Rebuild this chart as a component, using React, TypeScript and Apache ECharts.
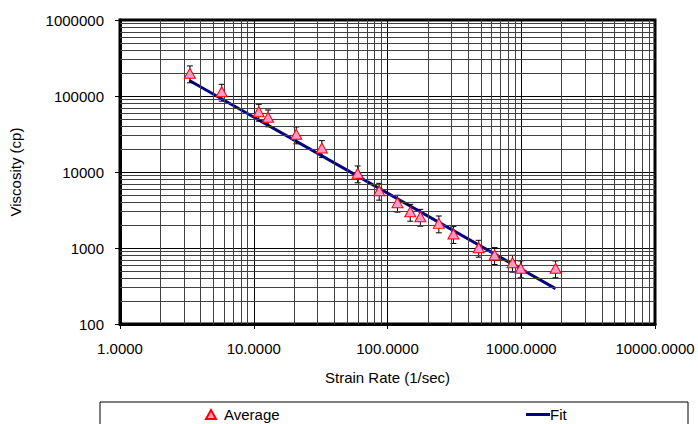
import React, { useEffect, useRef } from "react";
import * as echarts from "echarts";

const strainRate = [3.33, 5.76, 10.9, 12.8, 20.8, 32.3, 59.8, 86.7, 118.7, 148, 176, 242, 311, 481, 632, 860, 991, 1805];
const viscosity = [199000, 114000, 62200, 52400, 31300, 20700, 9610, 5680, 3950, 3000, 2580, 2110, 1530, 1010, 809, 641, 541, 541];
const errorPercent = 25;
const fitX = [3.3, 1805];
const fitY = [160000, 292];
const xDecades = [1, 10, 100, 1000];
const yDecades = [100, 1000, 10000, 100000];
const minorMultipliers = [2, 3, 4, 5, 6, 7, 8, 9];

const FONT = "'Liberation Sans', Arial, sans-serif";
const FS = 15;

export default function App() {
  const ref = useRef<HTMLDivElement>(null);
  useEffect(() => {
    if (!ref.current) return;
    const chart = echarts.init(ref.current, null, { renderer: "svg" });
    const xMinor: number[] = [];
    xDecades.forEach((d) => minorMultipliers.forEach((m) => xMinor.push(d * m)));
    const yMinor: number[] = [];
    yDecades.forEach((d) => minorMultipliers.forEach((m) => yMinor.push(d * m)));

    const avgData = strainRate.map((x, i) => [x, viscosity[i]]);
    const errData = strainRate.map((x, i) => [
      x,
      viscosity[i] * (1 - errorPercent / 100),
      viscosity[i] * (1 + errorPercent / 100),
    ]);
    const fitData = fitX.map((x, i) => [x, fitY[i]]);

    chart.setOption({
      animation: false,
      textStyle: { fontFamily: FONT, color: "#000" },
      grid: {
        left: 117,
        right: 43,
        top: 20,
        bottom: 100,
        show: true,
        borderColor: "#000",
        borderWidth: 3,
        backgroundColor: "transparent",
      },
      xAxis: {
        type: "log",
        logBase: 10,
        min: 1,
        max: 10000,
        name: "Strain Rate (1/sec)",
        nameLocation: "middle",
        nameGap: 46,
        nameTextStyle: { fontSize: FS, fontFamily: FONT, color: "#000" },
        axisLine: { show: true, lineStyle: { color: "#000", width: 3 } },
        axisTick: { show: true, inside: false, length: 5, lineStyle: { color: "#000" } },
        axisLabel: {
          margin: 17,
          fontSize: FS,
          fontFamily: FONT,
          color: "#000",
          formatter: (v: number) => v.toFixed(4),
        },
        splitLine: { show: true, lineStyle: { color: "#000", width: 1 } },
      },
      yAxis: {
        type: "log",
        logBase: 10,
        min: 100,
        max: 1000000,
        name: "Viscosity (cp)",
        nameLocation: "middle",
        nameGap: 97,
        nameTextStyle: { fontSize: FS, fontFamily: FONT, color: "#000" },
        axisLine: { show: true, lineStyle: { color: "#000", width: 3 } },
        axisTick: { show: true, inside: false, length: 5, lineStyle: { color: "#000" } },
        axisLabel: {
          margin: 16,
          fontSize: FS,
          fontFamily: FONT,
          color: "#000",
          formatter: (v: number) => String(Math.round(v)),
        },
        splitLine: { show: true, lineStyle: { color: "#000", width: 1 } },
      },
      legend: [
        {
          data: [{ name: "Average", icon: "triangle" }],
          left: 205,
          top: 407,
          padding: 0,
          itemWidth: 10,
          itemHeight: 9,
          itemGap: 10,
          textStyle: { fontSize: FS, fontFamily: FONT, color: "#000", padding: [0, 0, 0, 3] },
        },
        {
          data: [{ name: "Fit", icon: "rect" }],
          left: 526,
          top: 407,
          padding: 0,
          itemWidth: 24,
          itemHeight: 3,
          textStyle: { fontSize: FS, fontFamily: FONT, color: "#000", padding: [0, 0, 0, -5] },
        },
      ],
      graphic: [
        {
          type: "rect",
          shape: { x: 100, y: 402, width: 588, height: 30 },
          style: { fill: "none", stroke: "#000", lineWidth: 1 },
          silent: true,
        },
      ],
      series: [
        {
          name: "minorGrid",
          type: "line",
          data: [],
          z: 1,
          silent: true,
          markLine: {
            silent: true,
            symbol: ["none", "none"],
            label: { show: false },
            lineStyle: { color: "#404040", width: 1, type: "solid" },
            data: [
              ...xMinor.map((v) => ({ xAxis: v })),
              ...yMinor.map((v) => ({ yAxis: v })),
            ],
          },
        },
        {
          name: "Fit",
          type: "line",
          data: fitData,
          symbol: "none",
          z: 3,
          lineStyle: { color: "#000080", width: 3 },
          itemStyle: { color: "#000080" },
        },
        {
          name: "ErrorBars",
          type: "custom",
          z: 4,
          silent: true,
          data: errData,
          renderItem: (params: any, api: any) => {
            const x = api.value(0);
            const lo = api.coord([x, api.value(1)]);
            const hi = api.coord([x, api.value(2)]);
            const cap = 3;
            const style = { stroke: "#000", lineWidth: 1 };
            return {
              type: "group",
              children: [
                { type: "line", shape: { x1: lo[0], y1: lo[1], x2: hi[0], y2: hi[1] }, style },
                { type: "line", shape: { x1: lo[0] - cap, y1: lo[1], x2: lo[0] + cap, y2: lo[1] }, style },
                { type: "line", shape: { x1: hi[0] - cap, y1: hi[1], x2: hi[0] + cap, y2: hi[1] }, style },
              ],
            };
          },
        },
        {
          name: "Average",
          type: "scatter",
          data: avgData,
          symbol: "triangle",
          symbolSize: [11, 10],
          z: 5,
          itemStyle: { color: "#FF99CC", borderColor: "#FF0000", borderWidth: 1, opacity: 1 },
        },
      ],
    });
    return () => chart.dispose();
  }, []);
  return <div ref={ref} style={{ width: 698, height: 424, position: "absolute", left: 0, top: 0 }} />;
}
